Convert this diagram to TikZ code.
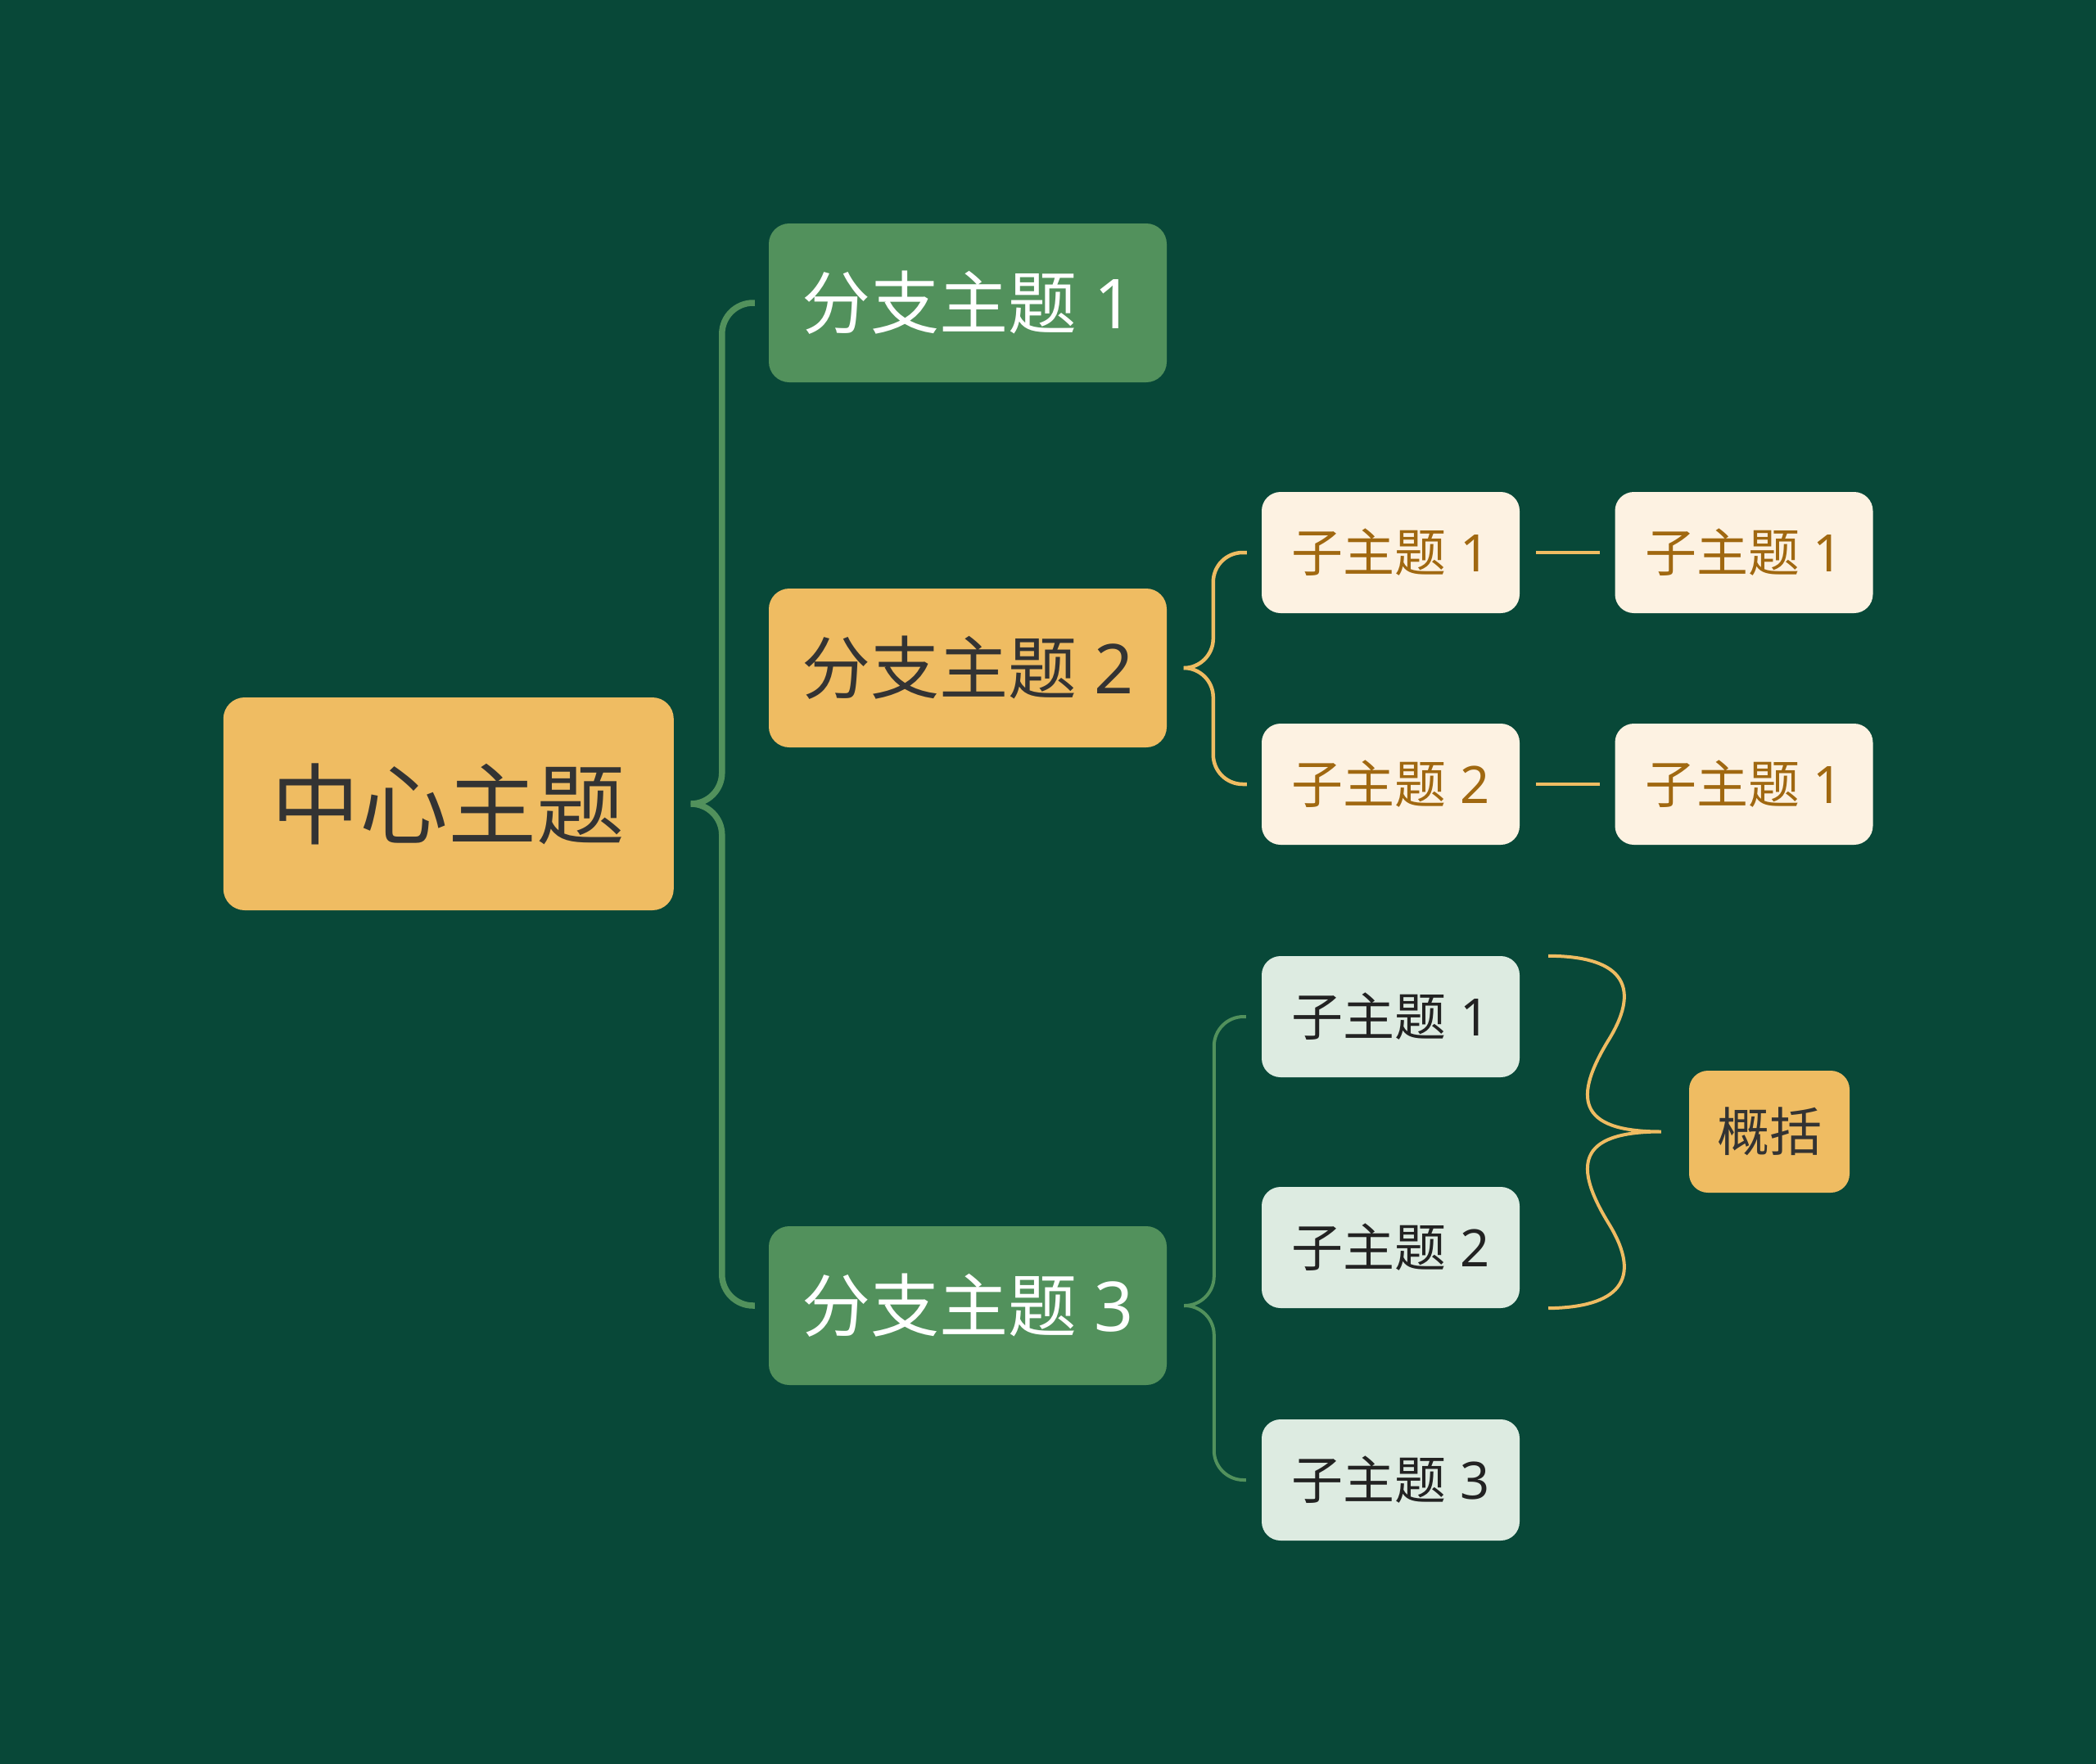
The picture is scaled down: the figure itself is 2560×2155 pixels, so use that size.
\documentclass[tikz,border=0pt]{standalone}
\usepackage{fontspec}
\setmainfont{Noto Sans CJK SC}
\newfontfamily\latinf{Noto Sans}
\newcommand{\dg}[1]{{\latinf\ #1}}
\definecolor{bgc}{RGB}{8,72,56}
\definecolor{goldc}{RGB}{239,188,98}
\definecolor{greenc}{RGB}{82,145,92}
\definecolor{creamc}{RGB}{253,242,226}
\definecolor{mintc}{RGB}{221,235,225}
\definecolor{brownt}{RGB}{160,104,16}
\definecolor{darkt}{RGB}{51,51,51}
\definecolor{subt}{RGB}{34,34,34}
\begin{document}
\begin{tikzpicture}[x=1pt,y=-1pt,
  basebox/.style={inner sep=0pt, align=center},
  centerbox/.style={basebox, fill=goldc, text=darkt, minimum width=550pt, minimum height=260pt, rounded corners=26pt, font=\fontsize{108}{120}\selectfont},
  branchbox/.style={basebox, minimum width=486pt, minimum height=194pt, rounded corners=25pt, font=\fontsize{84}{96}\selectfont},
  greenbranch/.style={branchbox, fill=greenc, text=white},
  goldbranch/.style={branchbox, fill=goldc, text=darkt},
  subbox/.style={basebox, minimum width=315pt, minimum height=148pt, rounded corners=23pt, font=\fontsize{63}{72}\selectfont},
  creamsub/.style={subbox, fill=creamc, text=brownt},
  mintsub/.style={subbox, fill=mintc, text=subt},
  sumbox/.style={basebox, fill=goldc, text=darkt, minimum width=196pt, minimum height=149pt, rounded corners=23pt, font=\fontsize{64}{72}\selectfont},
  mainline/.style={draw=greenc, line width=7.5pt, rounded corners=38pt},
  greenline/.style={draw=greenc, line width=4pt, rounded corners=36pt},
  goldline/.style={draw=goldc, line width=4.5pt, rounded corners=36pt},
  bracelink/.style={draw=goldc, line width=4pt}
]
\fill[bgc] (0,0) rectangle (2560,2155);
\useasboundingbox (0,0) rectangle (2560,2155);

% nodes
\node[centerbox] (c) at (547.8,982) {中心主题};
\node[greenbranch] (b1) at (1182,370) {分支主题\dg{1}};
\node[goldbranch] (b2) at (1182,816) {分支主题\dg{2}};
\node[greenbranch] (b3) at (1182,1595) {分支主题\dg{3}};

\node[creamsub] (s21) at (1698.5,675) {子主题\dg{1}};
\node[creamsub] (s22) at (1698.5,958) {子主题\dg{2}};
\node[creamsub] (r21) at (2130,675) {子主题\dg{1}};
\node[creamsub] (r22) at (2130,958) {子主题\dg{1}};

\node[mintsub] (s31) at (1698.5,1242) {子主题\dg{1}};
\node[mintsub] (s32) at (1698.5,1524) {子主题\dg{2}};
\node[mintsub] (s33) at (1698.5,1808) {子主题\dg{3}};

\node[sumbox] (sum) at (2161,1382.5) {概括};

% main bracket
\coordinate (ct) at ([xshift=21pt]c.east);
\draw[mainline] (ct) -| ([xshift=-57pt]b1.west) -- ([xshift=-17pt]b1.west);
\draw[mainline] (ct) -| ([xshift=-57pt]b3.west) -- ([xshift=-17pt]b3.west);

% branch 2 bracket
\coordinate (t2) at ([xshift=21pt]b2.east);
\draw[goldline] (t2) -| ([xshift=-59pt]s21.west) -- ([xshift=-18pt]s21.west);
\draw[goldline] (t2) -| ([xshift=-59pt]s22.west) -- ([xshift=-18pt]s22.west);
\draw[goldline] ([xshift=20pt]s21.east) -- ([xshift=-18pt]r21.west);
\draw[goldline] ([xshift=20pt]s22.east) -- ([xshift=-18pt]r22.west);

% branch 3 bracket
\coordinate (t3) at ([xshift=21pt]b3.east);
\draw[greenline] (t3) -| ([xshift=-58pt]s31.west) -- ([xshift=-19pt]s31.west);
\draw[greenline] (t3) -| ([xshift=-58pt]s33.west) -- ([xshift=-19pt]s33.west);

% summary brace
\coordinate (bt) at ([xshift=35pt]s31.north east);
\coordinate (bb) at ([xshift=35pt]s32.south east);
\coordinate (tip) at ([xshift=-34pt]sum.west);
\draw[bracelink] (bt) .. controls (1975,1168) and (2008,1200) .. (1965,1270)
  .. controls (1922,1340) and (1925,1382.5) .. (tip)
  .. controls (1925,1382.5) and (1922,1425) .. (1965,1495)
  .. controls (2008,1565) and (1975,1597) .. (bb);
\end{tikzpicture}
\end{document}
